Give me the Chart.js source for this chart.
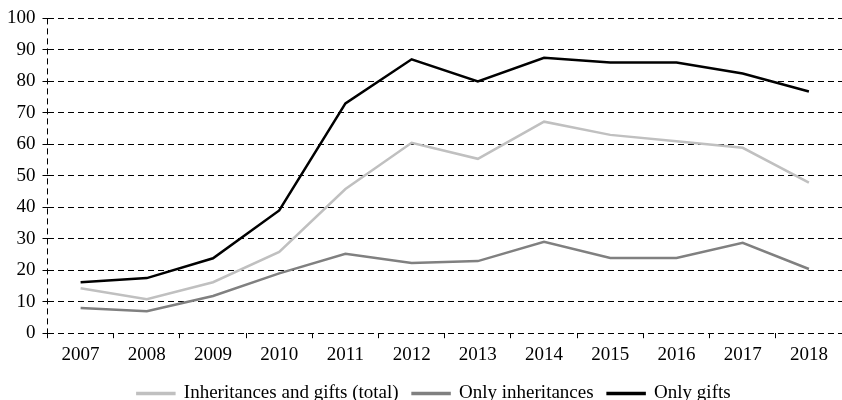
<!DOCTYPE html>
<html>
<head>
<meta charset="utf-8">
<script src="https://cdn.jsdelivr.net/npm/chart.js@4"></script>
<style>
  body { margin: 0; background: #fff; }
  #wrap { width: 842px; height: 400px; }
</style>
</head>
<body>
<div id="wrap"><canvas id="chart" width="842" height="400"></canvas></div>
<script>
let years = ['2007', '2008', '2009', '2010', '2011', '2012', '2013', '2014', '2015', '2016', '2017', '2018']
let total = [14.3, 10.8, 16.2, 25.8, 45.8, 60.5, 55.4, 67.2, 63.0, 61.0, 58.9, 47.8]
let inheritances = [8.0, 7.0, 11.8, 19.0, 25.2, 22.3, 22.9, 29.0, 23.9, 23.9, 28.7, 20.4]
let gifts = [16.2, 17.5, 23.8, 39.0, 73.0, 87.0, 80.0, 87.5, 86.0, 86.0, 82.5, 76.8]
let names = ['Inheritances and gifts (total)', 'Only inheritances', 'Only gifts']

Chart.defaults.font.family = '"Liberation Serif", "Times New Roman", serif'
Chart.defaults.font.size = 19
Chart.defaults.color = '#000'

let ctx = document.getElementById('chart')

function line(label, data, color) {
  return {
    label: label,
    data: data,
    borderColor: color,
    backgroundColor: color,
    borderWidth: 2.5,
    pointRadius: 0,
    tension: 0,
    fill: false
  }
}

// the legend in the original sits a bit right of the canvas centre
const nudgeLegend = {
  id: 'nudgeLegend',
  afterLayout(chart) {
    chart.legend.left += 11
    chart.legend.right += 11
  }
}

var myChart = new Chart(ctx, {
  type: 'line',
  data: {
    labels: years,
    datasets: [
      line(names[0], total, '#c0c0c0'),
      line(names[1], inheritances, '#808080'),
      line(names[2], gifts, '#000000')
    ]
  },
  plugins: [nudgeLegend],
  options: {
    responsive: false,
    animation: false,
    layout: { padding: { left: 0, right: -4, top: 12, bottom: -13 } },
    plugins: {
      tooltip: { enabled: false },
      legend: {
        position: 'bottom',
        labels: { boxWidth: 37, boxHeight: 1, padding: 14, color: '#000' }
      }
    },
    scales: {
      x: {
        offset: true,
        border: { display: false, dash: [6, 4] },
        grid: {
          offset: true,
          color: c => c.index === 0 ? '#000' : 'rgba(0,0,0,0)',
          tickColor: '#000',
          tickLength: 5,
          lineWidth: 1
        },
        ticks: { padding: 5, maxRotation: 0 },
        afterFit: scale => { scale.height -= 1 }
      },
      y: {
        min: 0,
        max: 100,
        border: { display: false, dash: [6, 4] },
        grid: { color: '#000', tickColor: '#000', tickLength: 5, lineWidth: 1 },
        ticks: { stepSize: 10, padding: 7 }
      }
    }
  }
})
</script>
</body>
</html>
